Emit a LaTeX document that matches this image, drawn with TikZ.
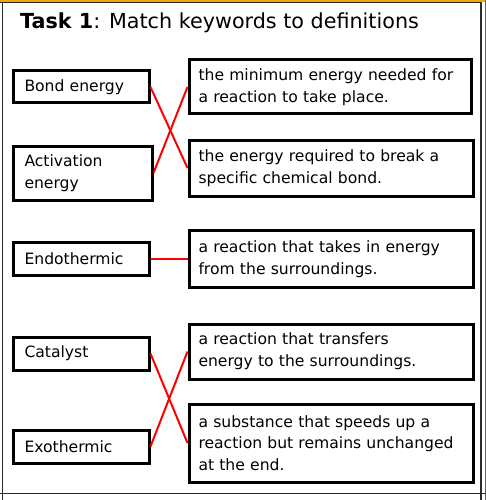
\documentclass[tikz,border=0pt]{standalone}
\usepackage{fontspec}
\setmainfont{DejaVu Sans}
\definecolor{framegold}{HTML}{F2A60C}
\definecolor{framedark}{HTML}{2A2A2A}
\definecolor{matchred}{HTML}{FF0000}
\tikzset{
  keybox/.style={draw=black, line width=3pt, anchor=north west, align=left,
    inner xsep=11.5pt, inner ysep=0pt, font=\fontsize{15.6}{21.8}\selectfont},
  defbox/.style={draw=black, line width=3pt, anchor=north west, align=left,
    inner xsep=9.5pt, inner ysep=0pt, font=\fontsize{15.6}{21.8}\selectfont},
  match/.style={draw=matchred, line width=2pt}
}
\begin{document}
\begin{tikzpicture}[x=1pt,y=-1pt]
\useasboundingbox (0,0) rectangle (486,500);
% frame
\fill[framegold] (0,0) rectangle (486,2);
\draw[framedark, line width=0.8pt] (0,2.6) -- (482,2.6);
\draw[framedark, line width=1pt] (2.5,2.6) -- (2.5,500);
\draw[framedark, line width=2pt] (481,2.6) -- (481,500);
\draw[black!60, line width=0.6pt] (485,0) -- (485,500);
\draw[framedark, line width=1pt] (0,493.5) -- (486,493.5);
% title
\node[anchor=west, inner sep=0pt, font=\fontsize{20.7}{24}\selectfont] (title) at (20,23)
  {\textbf{Task 1}: Match keywords to definitions};
% keyword boxes
\node[keybox, minimum width=136pt, minimum height=32pt, text width=113pt] (bond) at (11.5,69.5) {Bond energy};
\node[keybox, minimum width=139pt, minimum height=54pt, text width=116pt] (act) at (11.5,144.5) {Activation\\energy};
\node[keybox, minimum width=136pt, minimum height=33pt, text width=113pt] (endo) at (11.5,241) {Endothermic};
\node[keybox, minimum width=136pt, minimum height=33pt, text width=113pt] (cat) at (11.5,335.5) {Catalyst};
\node[keybox, minimum width=136pt, minimum height=33pt, text width=113pt] (exo) at (11.5,428.5) {Exothermic};
% definition boxes
\node[defbox, minimum width=282pt, minimum height=54pt, text width=263pt] (d1) at (187.5,58.5) {the minimum energy needed for\\a reaction to take place.};
\node[defbox, minimum width=284pt, minimum height=56pt, text width=265pt] (d2) at (187.5,138.5) {the energy required to break a\\specific chemical bond.};
\node[defbox, minimum width=284pt, minimum height=57pt, text width=265pt] (d3) at (187.5,229) {a reaction that takes in energy\\from the surroundings.};
\node[defbox, minimum width=284pt, minimum height=55pt, text width=265pt] (d4) at (187.5,322.5) {a reaction that transfers\\energy to the surroundings.};
\node[defbox, minimum width=284pt, minimum height=78pt, text width=265pt] (d5) at (187.5,402.5) {a substance that speeds up a\\reaction but remains unchanged\\at the end.};
% matches
\draw[match] (bond.east) -- (d2.west);
\draw[match] (act.east) -- (d1.west);
\draw[match] (endo.east) -- (d3.west);
\draw[match] (cat.east) -- (d5.west);
\draw[match] (exo.east) -- (d4.west);
\end{tikzpicture}
\end{document}
